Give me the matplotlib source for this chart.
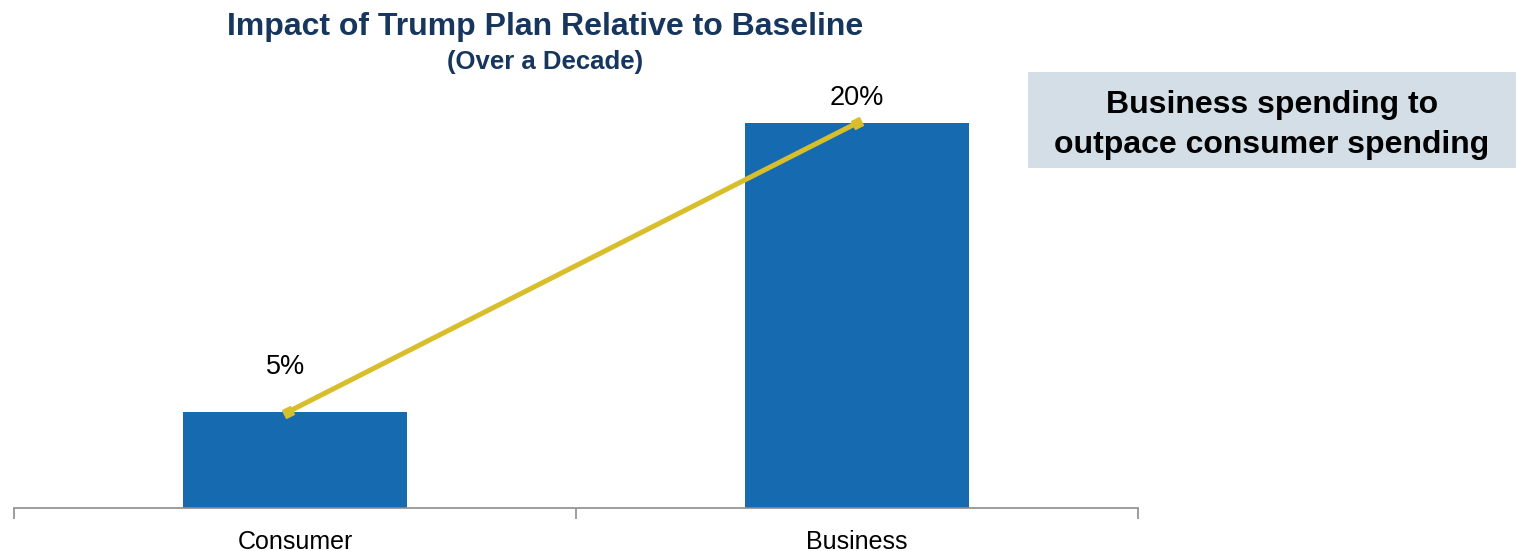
import matplotlib.pyplot as plt
import numpy as np

plt.rcParams['font.family'] = ['Liberation Sans', 'DejaVu Sans']

categories = ["Consumer", "Business"]
impact = [5, 20]
labels = ["5%", "20%"]

bar_color = "#166BB0"
line_color = "#D9BE2B"
navy = "#17365D"

fig = plt.figure(figsize=(15.2, 5.51), dpi=100)
W, H = 1520, 551
ax = fig.add_axes([14 / W, (H - 508) / H, (1138 - 14) / W, (508 - 60) / H])

x = np.arange(len(categories))
ax.bar(x, impact, width=0.4, color=bar_color, zorder=2)

# trend line joining the two bar tops
ax.plot(x - np.array([0.012, 0.0]), impact, color=line_color, lw=3.6,
        marker=(4, 0, 71.6), markersize=9, zorder=3, solid_capstyle="butt")

# value labels, offset above each bar (in points)
label_dx = [-7, 0]
label_dy = [32, 18]
for xi, v, lab, dx, dy in zip(x, impact, labels, label_dx, label_dy):
    ax.annotate(lab, (xi, v), xytext=(dx, dy), textcoords="offset points",
                ha="center", va="center", fontsize=19.5, color="black")

ax.set_xlim(-0.5, 1.5)
ax.set_ylim(0, 20 * 448 / 385)

for side in ["top", "right", "left"]:
    ax.spines[side].set_visible(False)
ax.spines["bottom"].set_color("#8C8C8C")
ax.spines["bottom"].set_linewidth(1.2)
ax.set_yticks([])
ax.set_xticks(x)
ax.set_xticklabels(categories, fontsize=18)
ax.tick_params(axis="x", which="major", length=0, pad=15.5)
ax.set_xticks([-0.5, 0.5, 1.5], minor=True)
ax.tick_params(axis="x", which="minor", length=8, width=1.2, color="#8C8C8C", direction="out")

fig.text(545 / W, 1 - 27 / H, "Impact of Trump Plan Relative to Baseline",
         ha="center", va="center", fontsize=23, fontweight="bold", color=navy)
fig.text(545 / W, 1 - 62 / H, "(Over a Decade)",
         ha="center", va="center", fontsize=18.5, fontweight="bold", color=navy)

# callout box on the right
box = plt.Rectangle((1028 / W, 1 - 168 / H), (1516 - 1028) / W, (168 - 72) / H,
                    transform=fig.transFigure, facecolor="#D3DEE6", edgecolor="none")
fig.patches.append(box)
fig.text(1272 / W, 1 - 125 / H, "Business spending to\noutpace consumer spending",
         ha="center", va="center", fontsize=23, fontweight="bold", color="black",
         linespacing=1.4)

fig.savefig("out.png", dpi=100)
